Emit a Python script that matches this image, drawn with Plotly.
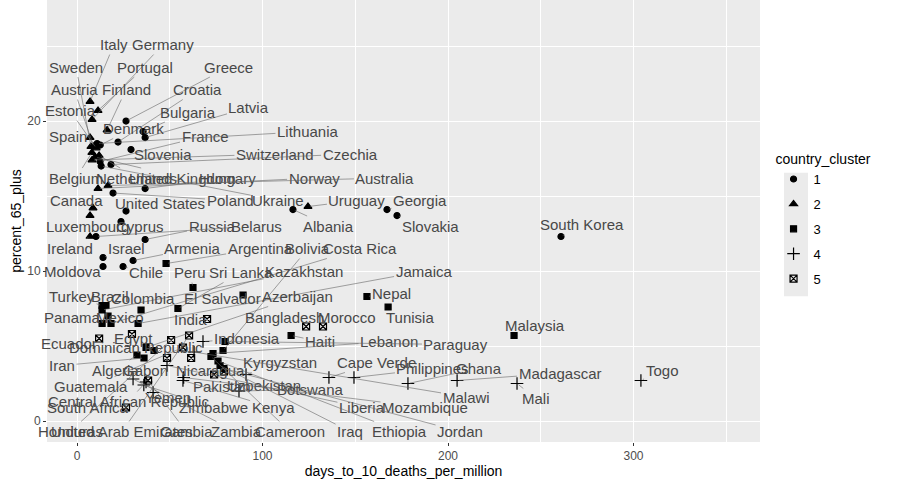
import plotly.graph_objects as go

# ---- data ----
countries = [
    "Italy", "Germany", "Sweden", "Portugal", "Greece", "Austria", "Finland", "Croatia",
    "Latvia", "Estonia", "Bulgaria", "Denmark", "Spain", "France", "Lithuania", "Slovenia",
    "Switzerland", "Czechia", "Belgium", "Netherlands", "United Kingdom", "Hungary", "Norway",
    "Australia", "Canada", "United States", "Poland", "Ukraine", "Uruguay", "Georgia",
    "Luxembourg", "Cyprus", "Russia", "Belarus", "Albania", "Slovakia", "South Korea",
    "Ireland", "Israel", "Armenia", "Argentina", "Bolivia", "Costa Rica", "Moldova", "Chile",
    "Peru", "Sri Lanka", "Kazakhstan", "Jamaica", "Turkey", "Brazil", "Colombia",
    "El Salvador", "Azerbaijan", "Nepal", "Panama", "Mexico", "India", "Bangladesh",
    "Morocco", "Tunisia", "Malaysia", "Egypt", "Indonesia", "Haiti", "Lebanon", "Paraguay",
    "Ecuador", "Dominican Republic", "Iran", "Algeria", "Gabon", "Nicaragua", "Kyrgyzstan",
    "Cape Verde", "Philippines", "Ghana", "Madagascar", "Togo", "Guatemala", "Pakistan",
    "Uzbekistan", "Botswana", "Malawi", "Mali", "Central African Republic", "Yemen",
    "South Africa", "Zimbabwe", "Kenya", "Liberia", "Mozambique", "Honduras",
    "United Arab Emirates", "Gambia", "Zambia", "Cameroon", "Iraq", "Ethiopia", "Jordan",
]
country_cluster = [
    2, 2, 2, 2, 1, 2, 2, 1,
    1, 2, 1, 1, 2, 1, 1, 1,
    2, 1, 2, 2, 2, 1, 2,
    2, 2, 1, 1, 1, 2, 1,
    2, 1, 1, 1, 1, 1, 1,
    2, 1, 1, 3, 3, 3, 1, 1,
    3, 3, 3, 3, 3, 3, 3,
    3, 3, 3, 3, 3, 5, 5,
    5, 3, 3, 5, 4, 3, 3, 3,
    5, 3, 3, 3, 5, 5, 4,
    4, 4, 4, 4, 4, 5, 5,
    5, 4, 4, 4, 4, 4,
    5, 4, 4, 4, 4, 5,
    5, 5, 4, 3, 3, 3, 3,
]
days_to_10_deaths_per_million = [
    7.0, 8.1, 7.5, 11.3, 26.4, 9.0, 16.2, 22.1,
    36.7, 10.3, 35.6, 12.5, 7.0, 12.4, 10.8, 29.1,
    8.1, 18.3, 8.0, 11.9, 9.8, 36.7, 11.3,
    16.7, 8.6, 26.4, 19.4, 13.0, 124.5, 167.1,
    7.0, 23.7, 36.7, 10.2, 116.4, 172.5, 260.9,
    7.0, 14.0, 30.2, 48.0, 78.7, 18.3, 14.0, 24.8,
    62.5, 54.4, 13.5, 32.9, 13.5, 15.6, 34.5,
    89.5, 37.2, 156.3, 13.5, 16.7, 70.1, 123.5,
    132.6, 167.7, 235.6, 29.6, 67.9, 115.4, 73.3, 79.8,
    11.9, 41.5, 36.1, 32.3, 48.5, 61.5, 91.1,
    135.8, 149.3, 178.4, 204.9, 304.0, 57.1, 73.9,
    79.2, 87.3, 63.1, 237.2, 37.2, 41.0,
    26.4, 36.0, 57.1, 48.5, 57.5, 50.7,
    60.4, 38.3, 30.2, 72.2, 77.1, 76.0, 79.2,
]
percent_65_plus = [
    21.3, 20.1, 18.3, 20.7, 20.0, 18.3, 19.4, 18.6,
    18.9, 18.2, 19.3, 18.4, 18.9, 17.3, 18.5, 18.1,
    17.4, 17.1, 17.9, 17.7, 17.6, 15.5, 15.5,
    15.7, 14.2, 14.0, 15.2, 17.0, 14.3, 14.1,
    13.7, 13.3, 12.1, 12.3, 14.1, 13.7, 12.3,
    12.3, 10.9, 10.7, 10.5, 4.7, 6.5, 10.3, 10.3,
    8.9, 7.5, 7.4, 6.5, 7.7, 7.7, 7.4,
    8.4, 4.9, 8.3, 6.5, 7.0, 6.8, 6.3,
    6.3, 7.6, 5.7, 5.8, 5.3, 5.7, 4.5, 5.3,
    5.5, 4.7, 4.2, 4.4, 4.2, 4.2, 3.1,
    2.9, 2.9, 2.5, 2.7, 2.7, 4.9, 3.1,
    3.3, 2.0, 4.6, 2.5, 2.6, 1.9,
    0.9, 2.4, 2.7, 3.7, 2.9, 5.4,
    5.7, 2.7, 2.8, 4.3, 3.7, 4.0, 3.5,
]

# repelled label placement (data units), as drawn in the reference
label_x = [
    19.9, 46.4, -0.5, 36.7, 81.9, -1.6, 26.4, 65.2,
    92.7, -3.8, 59.8, 30.2, -4.9, 69.0, 124.5, 46.4,
    106.7, 147.2, -0.5, 32.3, 57.1, 80.9, 127.8,
    166.0, -0.5, 44.7, 82.5, 108.4, 150.9, 184.9,
    5.9, 34.0, 72.8, 96.5, 135.8, 190.3, 272.2,
    -3.8, 26.4, 62.5, 98.7, 124.5, 152.6, -2.2, 37.2,
    60.9, 88.4, 122.4, 187.1, -2.7, 17.8, 35.6,
    78.2, 119.1, 169.3, -2.7, 23.2, 60.9, 112.1,
    145.6, 179.5, 246.9, 30.2, 91.6, 131.0, 168.2, 204.3,
    -4.3, 31.8, -8.1, 20.5, 36.7, 71.7, 109.4,
    161.7, 191.9, 216.7, 260.4, 315.4, 7.5, 78.2,
    100.8, 125.6, 209.7, 247.4, 27.5, 49.1,
    5.9, 73.3, 105.7, 153.6, 187.6, -3.8,
    24.3, 58.8, 85.7, 114.8, 147.2, 174.1, 206.5,
]
label_y = [
    25.1, 25.1, 23.6, 23.6, 23.6, 22.1, 22.1, 22.1,
    20.9, 20.7, 20.6, 19.5, 19.0, 19.0, 19.3, 17.8,
    17.8, 17.8, 16.2, 16.2, 16.2, 16.2, 16.2,
    16.2, 14.7, 14.5, 14.7, 14.7, 14.7, 14.7,
    13.0, 13.0, 13.0, 13.0, 13.0, 13.0, 13.1,
    11.5, 11.5, 11.5, 11.5, 11.5, 11.5, 10.0, 9.9,
    9.9, 9.9, 10.0, 10.0, 8.3, 8.3, 8.2,
    8.2, 8.3, 8.5, 6.9, 6.9, 6.8, 6.9,
    6.9, 6.9, 6.4, 5.5, 5.5, 5.3, 5.3, 5.1,
    5.2, 4.9, 3.7, 3.4, 3.4, 3.4, 3.9,
    3.9, 3.5, 3.5, 3.2, 3.4, 2.3, 2.3,
    2.4, 2.1, 1.6, 1.5, 1.3, 1.6,
    0.9, 0.9, 0.9, 0.9, 0.9, -0.7,
    -0.7, -0.7, -0.7, -0.7, -0.7, -0.7, -0.7,
]

cluster_levels = [1, 2, 3, 4, 5]
cluster_symbols = {1: "circle", 2: "triangle-up", 3: "square", 4: "cross-thin-open", 5: "square-x-open"}
cluster_sizes = {1: 6, 2: 7, 3: 6, 4: 9, 5: 7}

FONT = "Liberation Sans, Arial, sans-serif"

fig = go.Figure()
for lvl in cluster_levels:
    idx = [i for i, c in enumerate(country_cluster) if c == lvl]
    fig.add_trace(go.Scatter(
        x=[days_to_10_deaths_per_million[i] for i in idx],
        y=[percent_65_plus[i] for i in idx],
        mode="markers",
        name=str(lvl),
        legendgroup=str(lvl),
        marker=dict(symbol=cluster_symbols[lvl], size=cluster_sizes[lvl], color="black",
                    line=dict(color="black", width=1.2)),
        hovertext=[countries[i] for i in idx],
    ))

for i, name in enumerate(countries):
    fig.add_annotation(
        x=days_to_10_deaths_per_million[i], y=percent_65_plus[i],
        ax=label_x[i], ay=label_y[i], axref="x", ayref="y",
        text=name, showarrow=True, arrowhead=0, arrowwidth=0.6,
        arrowcolor="#666666", standoff=2,
        font=dict(family=FONT, size=15, color="#484848"),
    )

# grey key background behind the legend symbols
fig.add_shape(type="rect", xref="paper", yref="paper",
              x0=1.0337, x1=1.0673, y0=0.3295, y1=0.609,
              fillcolor="#EBEBEB", line=dict(width=0), layer="below")

fig.update_layout(
    width=897, height=485,
    margin=dict(l=47, r=137, t=0, b=43, autoexpand=False),
    paper_bgcolor="white",
    plot_bgcolor="#EBEBEB",
    font=dict(family=FONT, color="#4D4D4D"),
    showlegend=True,
    legend=dict(
        title=dict(text="country_cluster", font=dict(size=14, color="black")),
        x=1.019, xanchor="left", y=0.67, yanchor="top",
        font=dict(size=13, color="black"),
        tracegroupgap=5, bgcolor="rgba(0,0,0,0)",
    ),
    xaxis=dict(
        range=[-16.2, 368.2], tick0=0, dtick=100, automargin=False,
        showgrid=True, gridcolor="white", gridwidth=1.1, zeroline=False,
        ticks="outside", ticklen=3, tickcolor="#333333",
        tickfont=dict(size=12, color="#4D4D4D"),
        minor=dict(dtick=50, showgrid=True, gridcolor="white", gridwidth=0.5),
        title=dict(text="days_to_10_deaths_per_million", font=dict(size=14, color="black"), standoff=2),
    ),
    yaxis=dict(
        range=[-1.4, 28.07], tick0=0, dtick=10, automargin=False,
        showgrid=True, gridcolor="white", gridwidth=1.1, zeroline=False,
        ticks="outside", ticklen=3, tickcolor="#333333",
        tickfont=dict(size=12, color="#4D4D4D"),
        minor=dict(dtick=5, showgrid=True, gridcolor="white", gridwidth=0.5),
        title=dict(text="percent_65_plus", font=dict(size=14, color="black"), standoff=2),
    ),
)

# drop the default page margin so the figure sits at the window's corner
fig.write_html("out.html", config={"displayModeBar": False},
               post_script="document.body.style.margin='0';")
